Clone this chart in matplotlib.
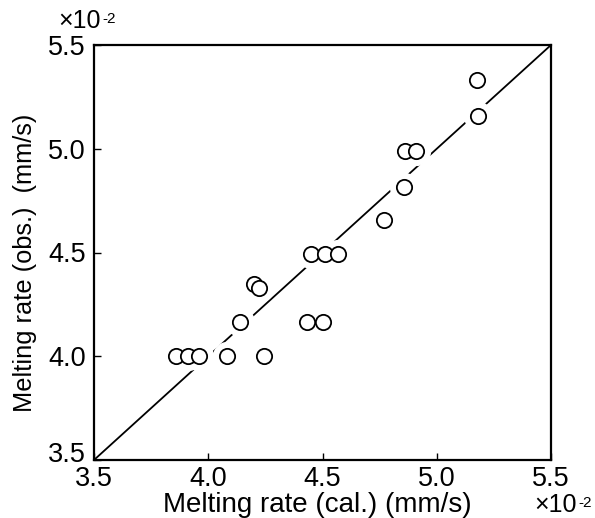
import matplotlib
matplotlib.use("Agg")
import matplotlib.pyplot as plt
import matplotlib.transforms as mtransforms

plt.rcParams['font.family'] = ['Liberation Sans', 'DejaVu Sans']

# Data (x10^-2 mm/s)
calc = [3.86, 3.91, 3.96, 4.08, 4.245,
        4.14, 4.43, 4.50,
        4.20, 4.22,
        4.45, 4.51, 4.57,
        4.77, 4.855, 4.86, 4.91,
        5.175, 5.18]
obs = [4.00, 4.00, 4.00, 4.00, 4.00,
       4.165, 4.165, 4.165,
       4.35, 4.33,
       4.495, 4.495, 4.495,
       4.655, 4.815, 4.99, 4.99,
       5.33, 5.16]
line_x = [3.5, 5.5]
ticks = [3.5, 4.0, 4.5, 5.0, 5.5]
tick_labels = ['3.5', '4.0', '4.5', '5.0', '5.5']

W, H = 595, 518
fig = plt.figure(figsize=(W/100, H/100), dpi=100)
ax = fig.add_axes([94/W, 1-460/H, (551-94)/W, (460-45)/H])

ax.plot(line_x, line_x, color='black', lw=1.3, zorder=1)
# white halo breaking the line around circles
ax.plot(calc, obs, 'o', ms=20, mfc='white', mec='white', zorder=2)
ax.plot(calc, obs, 'o', ms=11, mfc='white', mec='black', mew=1.3, zorder=3)

ax.set_xlim(3.5, 5.5)
ax.set_ylim(3.5, 5.5)
ax.set_xticks(ticks)
ax.set_yticks(ticks)
ax.set_xticklabels(tick_labels)
ax.set_yticklabels(tick_labels)
ax.tick_params(direction='in', length=5, width=1, labelsize=19.5)
ax.tick_params(axis='x', pad=4)
ax.tick_params(axis='y', pad=6)
for s in ax.spines.values():
    s.set_linewidth(1.6)

# lift the lowest y tick label a little (as in the reference)
lab = ax.yaxis.get_major_ticks()[0].label1
lab.set_transform(lab.get_transform() +
                  mtransforms.ScaledTranslation(0, 6/72, fig.dpi_scale_trans))

fig.text(317/W, 1-505/H, 'Melting rate (cal.) (mm/s)', ha='center', va='center', fontsize=20)
fig.text(25/W, 1-263/H, 'Melting rate (obs.)  (mm/s)', ha='center', va='center',
         rotation=90, fontsize=18.3)

def multiplier(xr, yc):
    fig.text(xr/W, 1-yc/H, '\u00d710', ha='right', va='center', fontsize=18)
    fig.text((xr+1)/W, 1-(yc-2)/H, '-2', ha='left', va='center', fontsize=11)

multiplier(101, 21)
multiplier(577, 505)

fig.savefig('out.png', dpi=100)
